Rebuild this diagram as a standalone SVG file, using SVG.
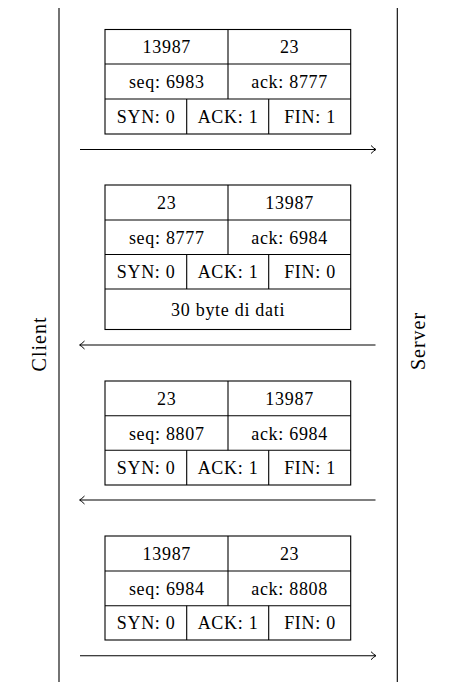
<svg xmlns="http://www.w3.org/2000/svg" width="451" height="700" viewBox="0 0 451 700">
<style>
.c{fill:#fff;stroke:#000;stroke-width:1.1}
.l{stroke:#000;stroke-width:1.1;fill:none}
.t{font-family:'Liberation Serif','Times New Roman',serif;font-size:18px;letter-spacing:0.7px;fill:#000;text-anchor:middle}
.lab{font-family:'Liberation Serif','Times New Roman',serif;font-size:20px;letter-spacing:1px;fill:#000;text-anchor:middle}
.a{stroke:#000;stroke-width:1.1;fill:none;marker-end:url(#ah)}
</style>
<defs>
<marker id="ah" viewBox="-6 -5 8 10" refX="0" refY="0" markerWidth="8" markerHeight="10" markerUnits="userSpaceOnUse" orient="auto">
<path d="M-4.5,-4 Q-1.5,-1 0.5,0 Q-1.5,1 -4.5,4" fill="none" stroke="#000" stroke-width="1"/>
</marker>
</defs>
<g id="lifelines">
<line class="l" x1="59" y1="8" x2="59" y2="682" stroke-width="1.4"/>
<line class="l" x1="397.3" y1="8" x2="397.3" y2="682" stroke-width="1.4"/>
<text class="lab" transform="translate(46,344) rotate(-90)">Client</text>
<text class="lab" transform="translate(425,341) rotate(-90)">Server</text>
</g>
<g id="pkt1">
<rect class="c" x="105" y="29.5" width="245.7" height="104.5"/>
<line class="l" x1="105" y1="64" x2="350.7" y2="64"/>
<line class="l" x1="105" y1="99" x2="350.7" y2="99"/>
<line class="l" x1="228" y1="29.5" x2="228" y2="99"/>
<line class="l" x1="186.7" y1="99" x2="186.7" y2="134"/>
<line class="l" x1="268.7" y1="99" x2="268.7" y2="134"/>
<text class="t" x="166.8" y="53.3">13987</text>
<text class="t" x="289.6" y="53.3">23</text>
<text class="t" x="166.8" y="88">seq: 6983</text>
<text class="t" x="289.6" y="88">ack: 8777</text>
<text class="t" x="146.1" y="123">SYN: 0</text>
<text class="t" x="228" y="123">ACK: 1</text>
<text class="t" x="310" y="123">FIN: 1</text>
</g>
<g id="pkt2">
<rect class="c" x="105" y="185" width="245.7" height="144.5"/>
<line class="l" x1="105" y1="220" x2="350.7" y2="220"/>
<line class="l" x1="105" y1="254.5" x2="350.7" y2="254.5"/>
<line class="l" x1="105" y1="289" x2="350.7" y2="289"/>
<line class="l" x1="228" y1="185" x2="228" y2="254.5"/>
<line class="l" x1="186.7" y1="254.5" x2="186.7" y2="289"/>
<line class="l" x1="268.7" y1="254.5" x2="268.7" y2="289"/>
<text class="t" x="166.8" y="209">23</text>
<text class="t" x="289.6" y="209">13987</text>
<text class="t" x="166.8" y="243.5">seq: 8777</text>
<text class="t" x="289.6" y="243.5">ack: 6984</text>
<text class="t" x="146.1" y="278">SYN: 0</text>
<text class="t" x="228" y="278">ACK: 1</text>
<text class="t" x="310" y="278">FIN: 0</text>
<text class="t" x="228.1" y="315.5">30 byte di dati</text>
</g>
<g id="pkt3">
<rect class="c" x="105" y="381" width="245.7" height="104"/>
<line class="l" x1="105" y1="415.7" x2="350.7" y2="415.7"/>
<line class="l" x1="105" y1="450.3" x2="350.7" y2="450.3"/>
<line class="l" x1="228" y1="381" x2="228" y2="450.3"/>
<line class="l" x1="186.7" y1="450.3" x2="186.7" y2="485"/>
<line class="l" x1="268.7" y1="450.3" x2="268.7" y2="485"/>
<text class="t" x="166.8" y="404.8">23</text>
<text class="t" x="289.6" y="404.8">13987</text>
<text class="t" x="166.8" y="439.5">seq: 8807</text>
<text class="t" x="289.6" y="439.5">ack: 6984</text>
<text class="t" x="146.1" y="474">SYN: 0</text>
<text class="t" x="228" y="474">ACK: 1</text>
<text class="t" x="310" y="474">FIN: 1</text>
</g>
<g id="pkt4">
<rect class="c" x="105" y="536" width="245.7" height="104"/>
<line class="l" x1="105" y1="571" x2="350.7" y2="571"/>
<line class="l" x1="105" y1="605.7" x2="350.7" y2="605.7"/>
<line class="l" x1="228" y1="536" x2="228" y2="605.7"/>
<line class="l" x1="186.7" y1="605.7" x2="186.7" y2="640"/>
<line class="l" x1="268.7" y1="605.7" x2="268.7" y2="640"/>
<text class="t" x="166.8" y="560">13987</text>
<text class="t" x="289.6" y="560">23</text>
<text class="t" x="166.8" y="594.6">seq: 6984</text>
<text class="t" x="289.6" y="594.6">ack: 8808</text>
<text class="t" x="146.1" y="629">SYN: 0</text>
<text class="t" x="228" y="629">ACK: 1</text>
<text class="t" x="310" y="629">FIN: 0</text>
</g>
<g id="connectors">
<line class="a" x1="80" y1="149.5" x2="375.5" y2="149.5"/>
<line class="a" x1="375.5" y1="345" x2="80" y2="345"/>
<line class="a" x1="375.5" y1="500" x2="80" y2="500"/>
<line class="a" x1="80" y1="655.7" x2="375.5" y2="655.7"/>
</g>
</svg>
